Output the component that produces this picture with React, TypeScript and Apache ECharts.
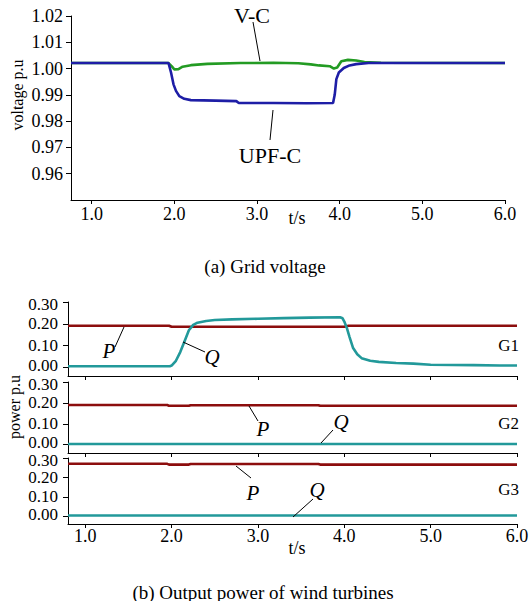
import React, { useEffect, useRef } from "react";
import * as echarts from "echarts";

// ---- data ----
const xTicks = [1, 2, 3, 4, 5, 6];
const voltageTicks = [0.96, 0.97, 0.98, 0.99, 1.0, 1.01, 1.02];
const powerTicks = [0, 0.1, 0.2, 0.3];

const vcData = [
  [0.75, 1.0021], [1.93, 1.0021], [1.97, 1.0008], [2.0, 0.9997], [2.05, 0.9998], [2.1, 1.0007],
  [2.2, 1.0013], [2.4, 1.0018], [2.8, 1.0021], [3.2, 1.0022], [3.5, 1.002], [3.65, 1.0016],
  [3.75, 1.0012], [3.88, 1.0009], [3.93, 1.0], [3.97, 1.0004], [4.02, 1.0028], [4.1, 1.0033],
  [4.2, 1.0031], [4.3, 1.0025], [4.5, 1.0022], [6.0, 1.0021],
];
const upfData = [
  [0.75, 1.0021], [1.93, 1.0021], [1.96, 0.9985], [1.99, 0.994], [2.02, 0.9915], [2.06, 0.9895],
  [2.12, 0.9885], [2.2, 0.988], [2.5, 0.9878], [2.75, 0.9876], [2.78, 0.9869], [3.2, 0.9869],
  [3.6, 0.9868], [3.92, 0.9869], [3.94, 0.99], [3.96, 0.996], [3.99, 0.9985], [4.05, 1.0002],
  [4.12, 1.0012], [4.2, 1.0017], [4.35, 1.0021], [6.0, 1.0021],
];
const p1Data = [[0.8, 0.191], [1.97, 0.191], [2.0, 0.186], [4.0, 0.186], [4.05, 0.191], [6.0, 0.191]];
const q1Data = [
  [0.8, 0.005], [1.98, 0.005], [2.0, 0.008], [2.05, 0.03], [2.1, 0.07], [2.15, 0.12], [2.2, 0.17],
  [2.25, 0.195], [2.3, 0.205], [2.4, 0.213], [2.5, 0.217], [2.7, 0.22], [3.0, 0.223], [3.3, 0.226],
  [3.6, 0.228], [3.95, 0.23], [3.98, 0.225], [4.0, 0.21], [4.03, 0.18], [4.06, 0.14], [4.1, 0.09],
  [4.15, 0.06], [4.2, 0.042], [4.3, 0.03], [4.4, 0.025], [4.6, 0.02], [4.8, 0.017], [5.0, 0.012],
  [5.5, 0.01], [5.8, 0.008], [6.0, 0.008],
];
const p2Data = [[0.8, 0.19], [1.95, 0.19], [1.97, 0.186], [2.2, 0.186], [2.22, 0.189], [3.7, 0.189], [3.72, 0.186], [6.0, 0.186]];
const q2Data = [[0.8, 0.003], [6.0, 0.003]];
const p3Data = [[0.8, 0.27], [1.95, 0.27], [1.97, 0.266], [2.2, 0.266], [2.22, 0.269], [3.7, 0.269], [3.72, 0.266], [6.0, 0.266]];
const q3Data = [[0.8, 0.004], [6.0, 0.004]];

const FONT = "'Liberation Serif', 'Times New Roman', Times, serif";
const GREEN = "#239b23";
const BLUE = "#1e1ea6";
const RED = "#8c0d0d";
const TEAL = "#22999a";

const axisLineStyle = { show: true, onZero: false, lineStyle: { color: "#000", width: 1 } };

function xAxisFor(gridIndex: number, min: number, showLabels: boolean, margin: number) {
  return {
    type: "value",
    gridIndex,
    min,
    max: 6,
    axisLine: axisLineStyle,
    axisTick: { show: true, inside: false, length: 4, customValues: xTicks, lineStyle: { color: "#000" } },
    axisLabel: {
      show: showLabels,
      customValues: xTicks,
      margin,
      formatter: (v: number) => v.toFixed(1),
      fontFamily: FONT,
      fontSize: 18,
      lineHeight: 14,
      color: "#000",
    },
    splitLine: { show: false },
  };
}

function yAxisFor(gridIndex: number, min: number, max: number, ticks: number[], margin: number, size: number, stacked: boolean) {
  const rich = {
    lo: { fontFamily: FONT, fontSize: size, color: "#000", padding: [0, 0, 4, 0] },
    hi: { fontFamily: FONT, fontSize: size, color: "#000", padding: [4, 0, 0, 0] },
  };
  return {
    type: "value",
    gridIndex,
    min,
    max,
    axisLine: axisLineStyle,
    axisTick: { show: true, inside: false, length: 5, customValues: ticks, lineStyle: { color: "#000" } },
    axisLabel: {
      customValues: ticks,
      margin,
      formatter: (v: number) => {
        const s = v.toFixed(2);
        if (!stacked) return s;
        if (Math.abs(v) < 1e-9) return "{lo|" + s + "}";
        if (Math.abs(v - 0.3) < 1e-9) return "{hi|" + s + "}";
        return s;
      },
      rich: stacked ? rich : undefined,
      fontFamily: FONT,
      fontSize: size,
      color: "#000",
    },
    splitLine: { show: false },
  };
}

function line(name: string, data: number[][], color: string, idx: number) {
  return {
    name,
    type: "line",
    data,
    xAxisIndex: idx,
    yAxisIndex: idx,
    showSymbol: false,
    symbol: "none",
    lineStyle: { color, width: 2.6 },
    z: 3,
  };
}

function txt(text: string, x: number, y: number, size: number, opts: any = {}) {
  return {
    type: "text",
    x,
    y,
    rotation: opts.rotation || 0,
    style: {
      text,
      fill: "#000",
      fontFamily: FONT,
      fontSize: size,
      fontStyle: opts.italic ? "italic" : "normal",
      textAlign: opts.align || "center",
      textVerticalAlign: "middle",
    },
    z: 10,
  };
}

function seg(x1: number, y1: number, x2: number, y2: number) {
  return { type: "line", shape: { x1, y1, x2, y2 }, style: { stroke: "#000", lineWidth: 1 }, z: 10 };
}

export default function App() {
  const ref = useRef<HTMLDivElement>(null);
  useEffect(() => {
    if (!ref.current) return;
    const chart = echarts.init(ref.current, null, { renderer: "svg" });
    const option: any = {
      animation: false,
      backgroundColor: "#fff",
      grid: [
        { left: 71, top: 16, width: 434, height: 184, outerBoundsMode: "none" },
        { left: 68, top: 302, width: 449, height: 74, outerBoundsMode: "none" },
        { left: 68, top: 382, width: 449, height: 71, outerBoundsMode: "none" },
        { left: 68, top: 458, width: 449, height: 66, outerBoundsMode: "none" },
      ],
      xAxis: [
        xAxisFor(0, 0.75, true, 7),
        xAxisFor(1, 0.8, false, 4),
        xAxisFor(2, 0.8, false, 4),
        xAxisFor(3, 0.8, true, 5),
      ],
      yAxis: [
        yAxisFor(0, 0.95, 1.02, voltageTicks, 8, 18, false),
        yAxisFor(1, -0.04, 0.3, powerTicks, 10, 17, true),
        yAxisFor(2, -0.04, 0.3, powerTicks, 10, 17, true),
        yAxisFor(3, -0.04, 0.3, powerTicks, 10, 17, true),
      ],
      series: [
        line("V-C", vcData, GREEN, 0),
        line("UPF-C", upfData, BLUE, 0),
        line("P G1", p1Data, RED, 1),
        line("Q G1", q1Data, TEAL, 1),
        line("P G2", p2Data, RED, 2),
        line("Q G2", q2Data, TEAL, 2),
        line("P G3", p3Data, RED, 3),
        line("Q G3", q3Data, TEAL, 3),
      ],
      graphic: [
        txt("V-C", 252, 15, 22),
        seg(253, 22, 260, 61),
        txt("UPF-C", 270, 155, 22),
        seg(273, 110, 270, 140),
        txt("voltage p.u", 17, 95, 16, { rotation: Math.PI / 2 }),
        txt("t/s", 297, 218, 18),
        txt("(a) Grid voltage", 265, 266, 19),
        txt("power p.u", 14, 407, 16, { rotation: Math.PI / 2 }),
        txt("G1", 519, 345, 17, { align: "right" }),
        txt("G2", 519, 423, 17, { align: "right" }),
        txt("G3", 519, 489, 17, { align: "right" }),
        txt("P", 109, 351, 21, { italic: true }),
        seg(115, 347, 124, 327),
        txt("Q", 212, 357, 21, { italic: true }),
        seg(183, 342, 205, 352),
        txt("P", 263, 429, 21, { italic: true }),
        seg(249, 406, 258, 421),
        txt("Q", 341, 422, 21, { italic: true }),
        seg(333, 430, 321, 443),
        txt("P", 253, 493, 21, { italic: true }),
        seg(236, 466, 251, 478),
        txt("Q", 317, 490, 21, { italic: true }),
        seg(313, 499, 293, 517),
        txt("t/s", 297, 548, 18),
        txt("(b) Output power of wind turbines", 263, 592, 19),
      ],
    };
    chart.setOption(option);
    return () => chart.dispose();
  }, []);
  return (
    <div
      ref={ref}
      style={{ position: "fixed", left: 0, top: 0, width: 531, height: 601, background: "#fff" }}
    />
  );
}
